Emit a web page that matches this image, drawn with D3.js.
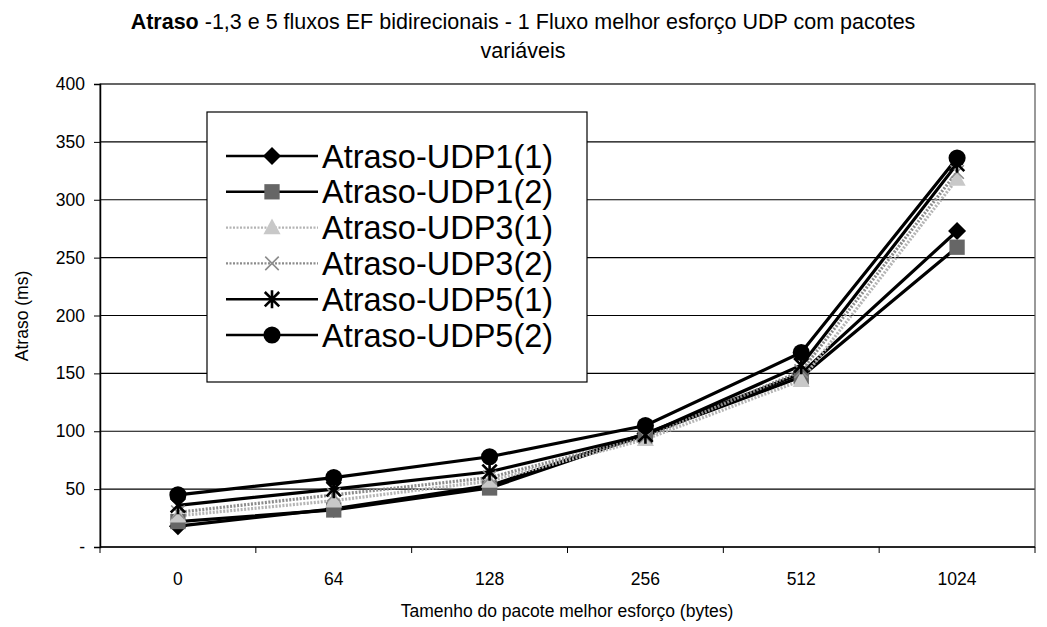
<!DOCTYPE html>
<html>
<head>
<meta charset="utf-8">
<script src="https://cdn.jsdelivr.net/npm/d3@7/dist/d3.min.js"></script>
<style>
  html, body { margin: 0; padding: 0; background: #fff; }
  svg { display: block; font-family: "Liberation Sans", Arial, sans-serif; }
</style>
</head>
<body>
<svg id="chart" width="1047" height="627"></svg>
<script>
// Packet sizes of the best-effort flow (bytes)
const categories = ["0", "64", "128", "256", "512", "1024"];

// Delay (ms) per configuration
const udp1_1 = [18, 33, 53, 98, 150, 273];
const udp1_2 = [22, 32, 51, 97, 147, 259];
const udp3_1 = [27, 40, 57, 93, 144, 318];
const udp3_2 = [30, 45, 60, 95, 152, 324];
const udp5_1 = [36, 50, 65, 97, 157, 331];
const udp5_2 = [45, 60, 78, 105, 168, 336];

const seriesNames = ["Atraso-UDP1(1)", "Atraso-UDP1(2)", "Atraso-UDP3(1)",
                     "Atraso-UDP3(2)", "Atraso-UDP5(1)", "Atraso-UDP5(2)"];
const yTicks = [0, 50, 100, 150, 200, 250, 300, 350, 400];

const series = [
  { name: seriesNames[0], values: udp1_1, line: "#000", dash: null, marker: "diamond", fill: "#000" },
  { name: seriesNames[1], values: udp1_2, line: "#000", dash: null, marker: "square", fill: "#666" },
  { name: seriesNames[2], values: udp3_1, line: "#b4b4b4", dash: "2,1.5", marker: "triangle", fill: "#c8c8c8" },
  { name: seriesNames[3], values: udp3_2, line: "#8c8c8c", dash: "2,1.5", marker: "x", fill: "#8c8c8c" },
  { name: seriesNames[4], values: udp5_1, line: "#000", dash: null, marker: "asterisk", fill: "#000" },
  { name: seriesNames[5], values: udp5_2, line: "#000", dash: null, marker: "circle", fill: "#000" }
];

const svg = d3.select("#chart");
const plot = { left: 100, right: 1035, top: 84, bottom: 547 };

const x = d3.scaleBand().domain(categories).range([plot.left, plot.right]).padding(0);
const y = d3.scaleLinear().domain([0, 400]).range([plot.bottom, plot.top]);
const cx = c => x(c) + x.bandwidth() / 2;

// Title
const title = svg.append("text").attr("x", 523).attr("y", 29)
  .attr("text-anchor", "middle").attr("font-size", 21.5).attr("fill", "#000");
title.append("tspan").attr("font-weight", "bold").text("Atraso");
title.append("tspan").text(" -1,3 e 5 fluxos EF bidirecionais - 1 Fluxo melhor esforço UDP com pacotes");
svg.append("text").attr("x", 523).attr("y", 58).attr("text-anchor", "middle")
  .attr("font-size", 21.5).text("variáveis");

// Horizontal gridlines
svg.append("g").selectAll("line").data(yTicks.slice(1)).join("line")
  .attr("x1", plot.left).attr("x2", plot.right)
  .attr("y1", d => y(d)).attr("y2", d => y(d))
  .attr("stroke", "#000").attr("stroke-width", 1.2);

// Plot frame
svg.append("rect").attr("x", plot.left).attr("y", plot.top)
  .attr("width", plot.right - plot.left).attr("height", plot.bottom - plot.top)
  .attr("fill", "none").attr("stroke", "#555").attr("stroke-width", 1.2);

// Y axis
const yAxis = d3.axisLeft(y).tickValues(yTicks).tickSize(6)
  .tickFormat(d => d === 0 ? "-" : d);
const gy = svg.append("g").attr("transform", `translate(${plot.left},0)`).call(yAxis);
gy.select(".domain").attr("stroke", "#000").attr("stroke-width", 1.5);
gy.selectAll(".tick line").attr("stroke", "#000");
gy.selectAll(".tick text").attr("font-size", 17.5).attr("font-family", "Liberation Sans, Arial, sans-serif")
  .attr("fill", "#000").attr("x", -15);

// X axis: labels at category centres, ticks on category boundaries
const gx = svg.append("g").attr("transform", `translate(0,${plot.bottom})`);
gx.append("line").attr("x1", plot.left).attr("x2", plot.right)
  .attr("stroke", "#000").attr("stroke-width", 1.5);
const bounds = categories.map(c => x(c)).concat([plot.right]);
gx.selectAll("line.tk").data(bounds).join("line").attr("class", "tk")
  .attr("x1", d => d).attr("x2", d => d).attr("y1", 0).attr("y2", 6)
  .attr("stroke", "#000");
gx.selectAll("text").data(categories).join("text")
  .attr("x", d => cx(d)).attr("y", 38).attr("text-anchor", "middle")
  .attr("font-size", 17.5).text(d => d);

// Axis titles
svg.append("text").attr("x", 567).attr("y", 617).attr("text-anchor", "middle")
  .attr("font-size", 17.5).text("Tamenho do pacote melhor esforço (bytes)");
svg.append("text").attr("transform", "translate(28,316) rotate(-90)")
  .attr("text-anchor", "middle").attr("font-size", 17.5).text("Atraso (ms)");

// Marker drawing
function drawMarker(g, type, fill, s) {
  if (type === "diamond") {
    g.append("path").attr("d", `M0,${-s}L${s},0L0,${s}L${-s},0Z`).attr("fill", fill);
  } else if (type === "square") {
    const h = s * 0.85;
    g.append("rect").attr("x", -h).attr("y", -h).attr("width", 2 * h).attr("height", 2 * h)
      .attr("fill", fill);
  } else if (type === "triangle") {
    g.append("path").attr("d", `M0,${-s}L${s * 0.95},${s * 0.75}L${-s * 0.95},${s * 0.75}Z`)
      .attr("fill", fill);
  } else if (type === "x") {
    const h = s * 0.75;
    g.append("path").attr("d", `M${-h},${-h}L${h},${h}M${-h},${h}L${h},${-h}`)
      .attr("stroke", fill).attr("stroke-width", 1.6).attr("fill", "none");
  } else if (type === "asterisk") {
    const h = s * 0.8;
    g.append("path").attr("d", `M${-h},${-h}L${h},${h}M${-h},${h}L${h},${-h}M0,${-s}L0,${s}`)
      .attr("stroke", fill).attr("stroke-width", 2.6).attr("fill", "none");
  } else if (type === "circle") {
    g.append("circle").attr("r", s * 0.95).attr("fill", fill);
  }
}

// Series lines and markers
const line = d3.line().x((d, i) => cx(categories[i])).y(d => y(d));
series.forEach(s => {
  svg.append("path").datum(s.values).attr("d", line)
    .attr("fill", "none").attr("stroke", s.line).attr("stroke-width", 3.2)
    .attr("stroke-dasharray", s.dash);
});
series.forEach(s => {
  s.values.forEach((v, i) => {
    const g = svg.append("g").attr("transform", `translate(${cx(categories[i])},${y(v)})`);
    drawMarker(g, s.marker, s.fill, 9);
  });
});

// Legend
const legend = svg.append("g");
legend.append("rect").attr("x", 207).attr("y", 112).attr("width", 380).attr("height", 270)
  .attr("fill", "#fff").attr("stroke", "#000").attr("stroke-width", 1.2);
series.forEach((s, i) => {
  const ly = 156 + i * 35.8;
  legend.append("line").attr("x1", 226).attr("x2", 318).attr("y1", ly).attr("y2", ly)
    .attr("stroke", s.line).attr("stroke-width", 2.4).attr("stroke-dasharray", s.dash);
  const g = legend.append("g").attr("transform", `translate(272,${ly})`);
  drawMarker(g, s.marker, s.fill, 9);
  legend.append("text").attr("x", 322).attr("y", ly + 11.5).attr("font-size", 32.5)
    .text(s.name);
});
</script>
</body>
</html>
